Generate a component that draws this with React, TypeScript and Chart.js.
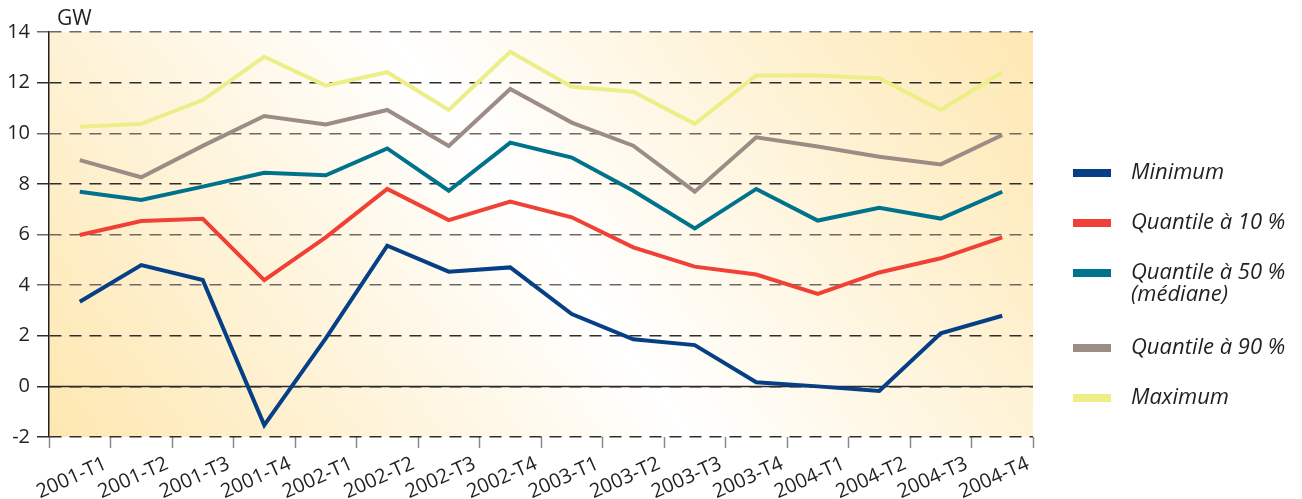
import React, { useEffect, useRef } from "react";
import { Chart, registerables } from "chart.js";

Chart.register(...registerables);

const categories = [
  "2001-T1", "2001-T2", "2001-T3", "2001-T4",
  "2002-T1", "2002-T2", "2002-T3", "2002-T4",
  "2003-T1", "2003-T2", "2003-T3", "2003-T4",
  "2004-T1", "2004-T2", "2004-T3", "2004-T4",
];

const minimum = [3.34, 4.79, 4.2, -1.53, 1.9, 5.56, 4.53, 4.7, 2.86, 1.86, 1.63, 0.16, 0.0, -0.18, 2.1, 2.79];
const quantile10 = [5.98, 6.53, 6.62, 4.2, 5.89, 7.8, 6.57, 7.3, 6.68, 5.49, 4.73, 4.42, 3.65, 4.5, 5.06, 5.89];
const quantile50 = [7.69, 7.36, 7.89, 8.44, 8.34, 9.4, 7.73, 9.63, 9.04, 7.73, 6.24, 7.8, 6.55, 7.06, 6.63, 7.69];
const quantile90 = [8.94, 8.26, 9.5, 10.68, 10.35, 10.92, 9.5, 11.75, 10.42, 9.51, 7.69, 9.84, 9.48, 9.07, 8.77, 9.93];
const maximum = [10.26, 10.37, 11.31, 13.02, 11.88, 12.41, 10.92, 13.22, 11.84, 11.64, 10.37, 12.28, 12.28, 12.17, 10.92, 12.41];

const seriesLabels = ["Minimum", "Quantile à 10 %", "Quantile à 50 %\n(médiane)", "Quantile à 90 %", "Maximum"];
const seriesColors = ["#063f85", "#ef4136", "#00738c", "#9b8c85", "#ecee88"];

const yMin = -2;
const yMax = 14;
const yStep = 2;
const unitLabel = "GW";

const FONT = '"Open Sans", "DejaVu Sans", sans-serif';
const TEXT = "#231f20";

export default function App() {
  const ref = useRef<HTMLCanvasElement>(null);

  useEffect(() => {
    const canvas = ref.current;
    if (!canvas) return;

    const bgPlugin = {
      id: "bgGradient",
      beforeDraw(chart: any) {
        const { ctx, chartArea: a } = chart;
        const cx = (a.left + a.right) / 2 + 9;
        const cy = (a.top + a.bottom) / 2;
        const ux = 0.803, uy = -0.595;
        const g = ctx.createLinearGradient(cx - 523 * ux, cy - 523 * uy, cx + 508 * ux, cy + 508 * uy);
        g.addColorStop(0, "#fee7b0");
        g.addColorStop(0.5, "#ffffff");
        g.addColorStop(1, "#fee8b2");
        ctx.save();
        ctx.fillStyle = g;
        ctx.fillRect(a.left, a.top, a.right - a.left, a.bottom - a.top);
        ctx.restore();
      },
    };

    const zeroPlugin = {
      id: "zeroLine",
      beforeDatasetsDraw(chart: any) {
        const { ctx, chartArea: a, scales } = chart;
        const y = Math.round(scales.y.getPixelForValue(0)) + 0.5;
        ctx.save();
        ctx.strokeStyle = "#2a2a2a";
        ctx.lineWidth = 1.5;
        ctx.beginPath();
        ctx.moveTo(a.left, y);
        ctx.lineTo(a.right, y);
        ctx.stroke();
        ctx.restore();
      },
    };

    const textPlugin = {
      id: "extraText",
      afterDraw(chart: any) {
        const { ctx, chartArea: a } = chart;
        ctx.save();
        ctx.fillStyle = TEXT;
        ctx.font = `21px ${FONT}`;
        ctx.textAlign = "left";
        ctx.textBaseline = "alphabetic";
        ctx.fillText(unitLabel, a.left + 8, a.top - 7);

        // legend
        const sx = a.right + 40;
        const tx = a.right + 98;
        let y = a.top + 141;
        ctx.font = `italic 22px ${FONT}`;
        ctx.textBaseline = "middle";
        chart.data.datasets.forEach((ds: any, i: number) => {
          const lines = String(seriesLabels[i]).split("\n");
          ctx.fillStyle = ds.borderColor;
          ctx.fillRect(sx, y - 4, 38, 8);
          ctx.fillStyle = TEXT;
          lines.forEach((ln, k) => ctx.fillText(ln, tx, y + k * 22));
          y += 50 + (lines.length - 1) * 25;
        });
        ctx.restore();
      },
    };

    const gridColorFor = (v: number) => {
      if (v === 4 || v === 6 || v === 10 || v === 14) return "#6f6863";
      return "#2e2e2e";
    };

    const series = [minimum, quantile10, quantile50, quantile90, maximum];

    const chart = new Chart(canvas, {
      type: "line",
      data: {
        labels: categories,
        datasets: series.map((data, i) => ({
          label: seriesLabels[i].replace("\n", " "),
          data,
          borderColor: seriesColors[i],
          backgroundColor: seriesColors[i],
          borderWidth: 4,
          pointRadius: 0,
          tension: 0,
          fill: false,
        })),
      },
      options: {
        animation: false,
        responsive: true,
        maintainAspectRatio: false,
        layout: { padding: { top: 32, right: 269, left: 0, bottom: 0 } },
        plugins: {
          legend: { display: false },
          tooltip: { enabled: false },
        },
        scales: {
          x: {
            type: "category",
            offset: true,
            grid: {
              offset: true,
              drawOnChartArea: false,
              drawTicks: true,
              tickLength: 11,
              tickColor: "#8a8a8a",
              tickWidth: 1.5,
            },
            border: { display: false },
            ticks: {
              autoSkip: false,
              minRotation: 24,
              maxRotation: 24,
              labelOffset: 26,
              padding: 4,
              color: TEXT,
              font: { family: FONT, size: 20 },
            },
            afterFit(scale: any) {
              scale.height = 62;
            },
          },
          y: {
            min: yMin,
            max: yMax,
            ticks: {
              stepSize: yStep,
              padding: 7,
              color: TEXT,
              font: { family: FONT, size: 20 },
            },
            grid: {
              color: (ctx: any) => gridColorFor(ctx.tick?.value),
              lineWidth: 1.5,
              tickLength: 12,
              tickColor: (ctx: any) => gridColorFor(ctx.tick?.value),
              tickWidth: 1.5,
            },
            border: { display: true, color: TEXT, width: 1.5, dash: [12, 8] },
            afterFit(scale: any) {
              scale.width = 49;
            },
          },
        },
      },
      plugins: [bgPlugin, zeroPlugin, textPlugin],
    });

    return () => chart.destroy();
  }, []);

  return (
    <div style={{ position: "fixed", left: 0, top: 0, width: 1302, height: 499, background: "#fff" }}>
      <canvas ref={ref} />
    </div>
  );
}
